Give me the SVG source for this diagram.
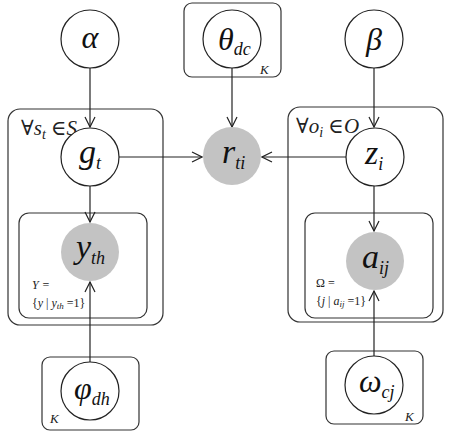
<svg xmlns="http://www.w3.org/2000/svg" width="474" height="431" viewBox="0 0 474 431">
<defs>
<style>
.plate{fill:none;stroke:#333;stroke-width:1.2}
.n{fill:#fff;stroke:#222;stroke-width:1.2}
.o{fill:#c3c3c3;stroke:none}
.e{stroke:#222;stroke-width:1.2;fill:none}
.f{font-family:"Times New Roman","Liberation Serif","DejaVu Serif",serif}
</style>
<marker id="ar" viewBox="0 0 12 12" refX="11" refY="6" markerWidth="12" markerHeight="12" markerUnits="userSpaceOnUse" orient="auto">
<polyline points="1,1 11,6 1,11" fill="none" stroke="#222" stroke-width="1.2"/>
</marker>
</defs>
<rect width="474" height="431" fill="#fff"/>
<g id="plates" class="f" fill="#222">
<rect class="plate" x="8" y="109" width="155" height="216" rx="12"/>
<rect class="plate" x="19" y="213" width="128" height="105" rx="10"/>
<rect class="plate" x="288" y="107" width="155" height="215" rx="12"/>
<rect class="plate" x="305" y="213" width="128" height="105" rx="10"/>
<rect class="plate" x="184" y="3" width="97" height="74" rx="8"/>
<rect class="plate" x="42" y="357" width="97" height="73" rx="8"/>
<rect class="plate" x="326" y="351" width="97" height="73" rx="8"/>
<text x="21" y="135" font-size="21">∀<tspan font-style="italic">s</tspan><tspan font-style="italic" font-size="14" dy="4">t</tspan><tspan dy="-4"> ∈</tspan><tspan font-style="italic">S</tspan></text>
<text x="296" y="133" font-size="21">∀<tspan font-style="italic">o</tspan><tspan font-style="italic" font-size="14" dy="4">i</tspan><tspan dy="-4"> ∈</tspan><tspan font-style="italic">O</tspan></text>
<text x="32" y="289" font-size="12" font-style="italic">Y =</text>
<text x="32" y="307" font-size="12">{<tspan font-style="italic">y</tspan> | <tspan font-style="italic">y</tspan><tspan font-style="italic" font-size="9" dy="2">th</tspan><tspan dy="-2"> =1}</tspan></text>
<text x="316" y="287" font-size="12">Ω =</text>
<text x="316" y="305" font-size="12">{<tspan font-style="italic">j</tspan> | <tspan font-style="italic">a</tspan><tspan font-style="italic" font-size="9" dy="2">ij</tspan><tspan dy="-2"> =1}</tspan></text>
<text x="260" y="74" font-size="13" font-style="italic">K</text>
<text x="50" y="423" font-size="13" font-style="italic">K</text>
<text x="405" y="421" font-size="13" font-style="italic">K</text>
</g>
<g id="edges">
<line class="e" x1="90" y1="68" x2="90" y2="127" marker-end="url(#ar)"/>
<line class="e" x1="232" y1="68" x2="232" y2="127" marker-end="url(#ar)"/>
<line class="e" x1="374" y1="68" x2="374" y2="127" marker-end="url(#ar)"/>
<line class="e" x1="119" y1="157" x2="202" y2="157" marker-end="url(#ar)"/>
<line class="e" x1="346" y1="157" x2="262" y2="157" marker-end="url(#ar)"/>
<line class="e" x1="90" y1="186" x2="90" y2="222" marker-end="url(#ar)"/>
<line class="e" x1="374" y1="186" x2="374" y2="231" marker-end="url(#ar)"/>
<line class="e" x1="90" y1="362" x2="90" y2="282" marker-end="url(#ar)"/>
<line class="e" x1="374" y1="356" x2="374" y2="291" marker-end="url(#ar)"/>
</g>
<g id="nodes" class="f" font-style="italic" fill="#111">
<g id="alpha"><circle class="n" cx="90" cy="39" r="29"/><text x="90" y="48" font-size="32" text-anchor="middle" fill="#111">α</text></g>
<g id="theta"><circle class="n" cx="232" cy="39" r="29"/><text x="218" y="50" fill="#111"><tspan font-size="32">θ</tspan><tspan font-size="18" dy="5">dc</tspan></text></g>
<g id="beta"><circle class="n" cx="374" cy="39" r="29"/><text x="374" y="50" font-size="32" text-anchor="middle" fill="#111">β</text></g>
<g id="g_t"><circle class="n" cx="90" cy="157" r="29"/><text x="79" y="163" fill="#111"><tspan font-size="34">g</tspan><tspan font-size="18" dy="6">t</tspan></text></g>
<g id="r_ti"><circle class="o" cx="232" cy="156" r="29"/><text x="222" y="163" fill="#111"><tspan font-size="34">r</tspan><tspan font-size="18" dy="6">ti</tspan></text></g>
<g id="z_i"><circle class="n" cx="375" cy="157" r="29"/><text x="365" y="164" fill="#111"><tspan font-size="34">z</tspan><tspan font-size="18" dy="6">i</tspan></text></g>
<g id="y_th"><circle class="o" cx="90" cy="252" r="29"/><text x="76" y="258" fill="#111"><tspan font-size="34">y</tspan><tspan font-size="18" dy="6">th</tspan></text></g>
<g id="a_ij"><circle class="o" cx="375" cy="261" r="29"/><text x="362" y="268" fill="#111"><tspan font-size="34">a</tspan><tspan font-size="18" dy="6">ij</tspan></text></g>
<g id="phi"><circle class="n" cx="90" cy="391" r="29"/><text x="74" y="399" fill="#111"><tspan font-size="32">φ</tspan><tspan font-size="18" dy="6">dh</tspan></text></g>
<g id="omega"><circle class="n" cx="374" cy="385" r="29"/><text x="359" y="392" fill="#111"><tspan font-size="32">ω</tspan><tspan font-size="18" dy="6">cj</tspan></text></g>
</g>
</svg>
